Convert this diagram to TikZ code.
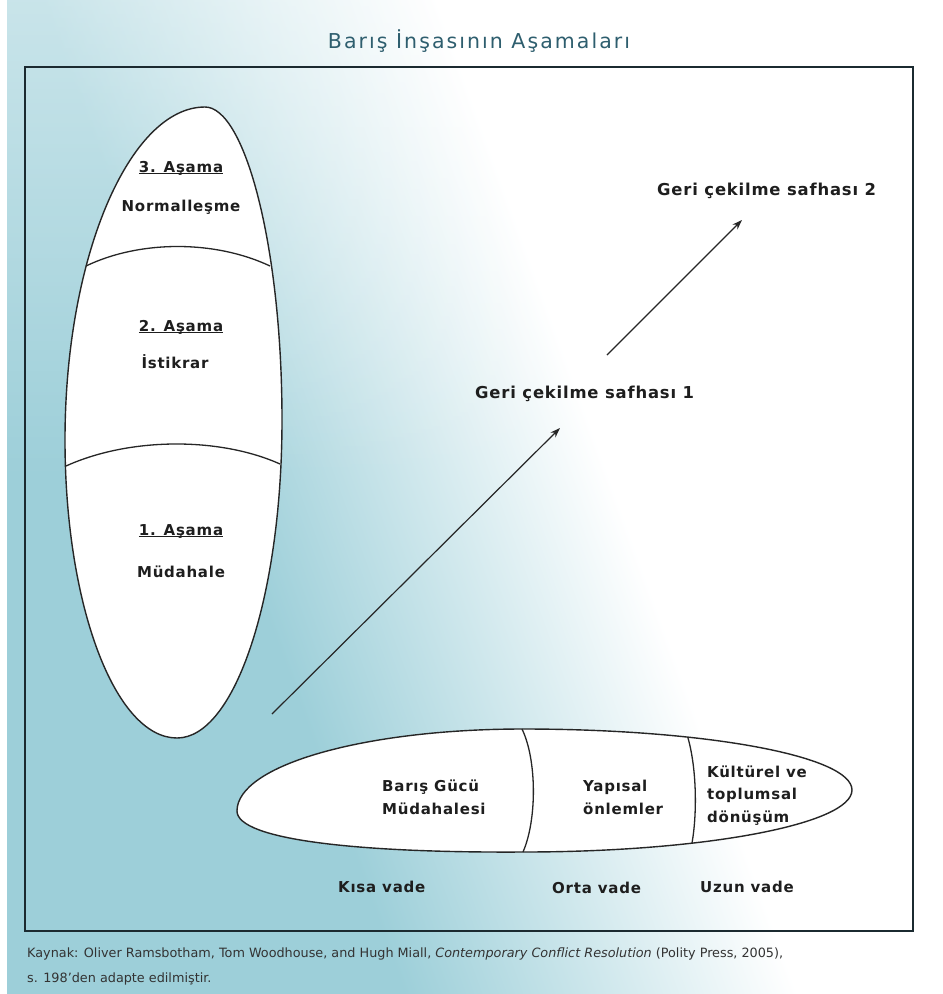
\documentclass[tikz,border=0pt]{standalone}
\usepackage{fontspec}
\usetikzlibrary{arrows.meta,fadings}
\newfontfamily\bodyfont{DejaVu Sans}[LetterSpace=5]
\newfontfamily\titlefont{DejaVu Sans}[LetterSpace=10]
\newfontfamily\capfont{DejaVu Sans}
\definecolor{bgblue}{HTML}{9DCFD9}
\definecolor{titlecol}{HTML}{2E5E6E}
\definecolor{inkcol}{HTML}{1E1E1E}
\definecolor{linecol}{HTML}{262626}
\definecolor{framecol}{HTML}{1B2A30}
\definecolor{capcol}{HTML}{333333}
\tikzfading[name=fadedown, top color=transparent!0, bottom color=transparent!100]
\newsavebox\ulbox
\newcommand\ulbar[1]{\sbox\ulbox{#1}\rlap{\rule[-2pt]{\wd\ulbox}{1.1pt}}\usebox\ulbox}
\begin{document}
\begin{tikzpicture}[x=1pt,y=-1pt,
  lbl/.style={inner sep=0pt, text=inkcol, anchor=base, font=\bodyfont\bfseries\fontsize{15}{18}\selectfont},
  lblw/.style={lbl, anchor=base west},
  sidelbl/.style={inner sep=0pt, text=inkcol, anchor=base west, font=\bodyfont\bfseries\fontsize{16.4}{19}\selectfont},
  shapeline/.style={draw=linecol, line width=1.4pt},
  divline/.style={draw=linecol, line width=1.3pt},
  arr/.style={draw=linecol, line width=1.2pt, -{Stealth[length=10pt,width=7pt]}},
  captext/.style={inner sep=0pt, text=capcol, anchor=base west, font=\capfont\fontsize{12.8}{15}\selectfont}]
\useasboundingbox (0,0) rectangle (943,994);
% background
\fill[white] (0,0) rectangle (943,994);
\begin{scope}
  \clip (7,0) rectangle (943,994);
  \begin{scope}[transform canvas={rotate around={20:(0,994)}}]
    \fill[bgblue] (-1000,-1500) rectangle (384,1500);
    \shade[left color=bgblue, right color=white] (380,-1500) rectangle (750,1500);
  \end{scope}
  \fill[white, path fading=fadedown, fill opacity=0.45] (7,0) rectangle (943,480);
\end{scope}
% frame
\draw[framecol, line width=1.6pt] (25,67) rectangle (913,931);
% title
\node[inner sep=0pt, anchor=base, text=titlecol, font=\titlefont\fontsize{20.5}{24}\selectfont] (title) at (479,48) {Barış İnşasının Aşamaları};
% vertical egg
\path[shapeline, fill=white] (205,107) .. controls (245,107) and (282,247) .. (282,420)
  .. controls (282,596) and (235,738) .. (177,738)
  .. controls (115,738) and (65,605) .. (65,440)
  .. controls (65,256) and (130,107) .. (205,107) -- cycle;
\coordinate (v1l) at (86,266); \coordinate (v1r) at (270,266);
\coordinate (v2l) at (66,466); \coordinate (v2r) at (280,464);
\draw[divline] (v1l) .. controls (140,240) and (215,240) .. (v1r);
\draw[divline] (v2l) .. controls (130,437) and (220,437) .. (v2r);
\node[lbl] (s3) at (181,172) {\ulbar{3. Aşama}};
\node[lbl] (n3) at (181,211) {Normalleşme};
\node[lbl] (s2) at (181,331) {\ulbar{2. Aşama}};
\node[lbl] (n2) at (175,368) {İstikrar};
\node[lbl] (s1) at (181,535) {\ulbar{1. Aşama}};
\node[lbl] (n1) at (181,577) {Müdahale};
% horizontal egg
\path[shapeline, fill=white] (237,811) .. controls (237,765) and (365,729) .. (523,729)
  .. controls (705,729) and (852,756) .. (852,790)
  .. controls (852,824) and (705,852) .. (523,852)
  .. controls (360,853) and (237,840) .. (237,811) -- cycle;
\coordinate (h1t) at (522,729); \coordinate (h1b) at (523,852);
\coordinate (h2t) at (688,738); \coordinate (h2b) at (692,843);
\draw[divline] (h1t) .. controls (537,760) and (537,820) .. (h1b);
\draw[divline] (h2t) .. controls (697,770) and (697,815) .. (h2b);
\node[lblw] (b1a) at (382,791) {Barış Gücü};
\node[lblw] (b1b) at (382,814) {Müdahalesi};
\node[lblw] (b2a) at (583,791) {Yapısal};
\node[lblw] (b2b) at (583,814) {önlemler};
\node[lblw] (b3a) at (707,777) {Kültürel ve};
\node[lblw] (b3b) at (707,799) {toplumsal};
\node[lblw] (b3c) at (707,822) {dönüşüm};
% time labels
\node[lblw] (t1) at (338,892) {Kısa vade};
\node[lblw] (t2) at (552,893) {Orta vade};
\node[lblw] (t3) at (700,892) {Uzun vade};
% withdrawal phases
\node[sidelbl] (g1) at (475,398) {Geri çekilme safhası 1};
\node[sidelbl] (g2) at (657,195) {Geri çekilme safhası 2};
\coordinate (a1s) at (272,714); \coordinate (a1e) at (560,428);
\coordinate (a2s) at (607,355); \coordinate (a2e) at (742,220);
\draw[arr] (a1s) -- (a1e);
\draw[arr] (a2s) -- (a2e);
% caption
\node[captext] (cap1) at (27,957) {Kaynak: Oliver Ramsbotham, Tom Woodhouse, and Hugh Miall, \textit{Contemporary Conflict Resolution} (Polity Press, 2005),};
\node[captext] (cap2) at (27,982) {s. 198’den adapte edilmiştir.};
\end{tikzpicture}
\end{document}
